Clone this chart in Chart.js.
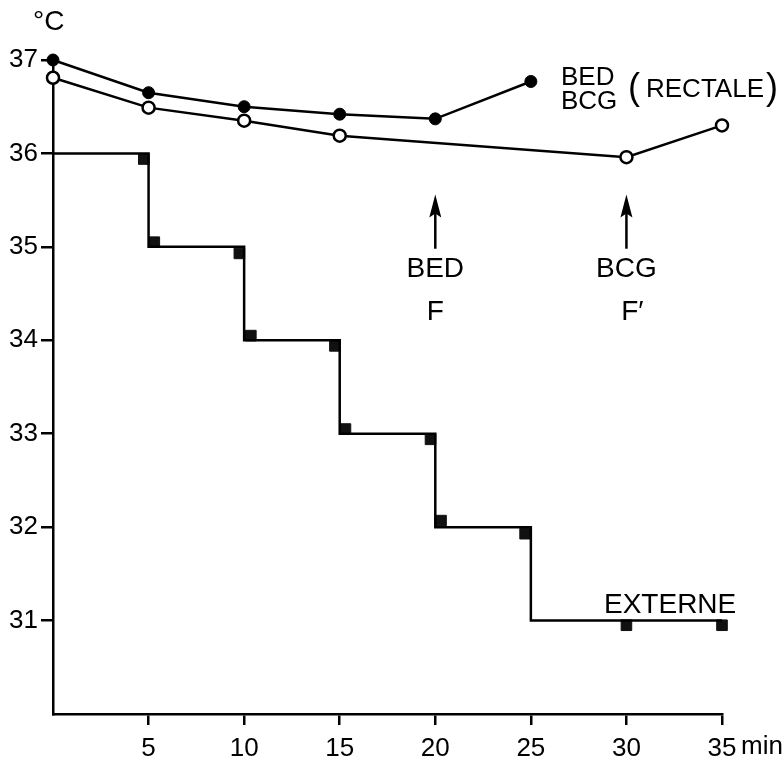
<!DOCTYPE html>
<html>
<head>
<meta charset="utf-8">
<script src="https://cdn.jsdelivr.net/npm/chart.js@4.4.1/dist/chart.umd.min.js"></script>
<style>
  html, body { margin: 0; padding: 0; background: #fff; }
  #wrap { width: 783px; height: 757px; }
</style>
</head>
<body>
<div id="wrap"><canvas id="c" width="783" height="757"></canvas></div>
<script>
// ---- data ----
const bedTimes   = [0, 5, 10, 15, 20, 25];
const bedTemps   = [37.0, 36.65, 36.5, 36.42, 36.37, 36.77];
const bcgTimes   = [0, 5, 10, 15, 30, 35];
const bcgTemps   = [36.81, 36.49, 36.35, 36.19, 35.96, 36.30];
const extTimes   = [0, 5, 10, 15, 20, 25, 35];
const extTemps   = [36, 35, 34, 33, 32, 31, 31];
const extMarkTimes = [4.75, 5.3, 9.75, 10.35, 14.75, 15.3, 19.75, 20.3, 24.7, 30, 35];
const extMarkTemps = [35.94, 35.05, 34.93, 34.05, 33.94, 33.05, 32.94, 32.07, 31.93, 30.95, 30.95];
const xTickValues = [5, 10, 15, 20, 25, 30, 35];
const yTickValues = [31, 32, 33, 34, 35, 36, 37];
const arrowTimes  = [20, 30];
const arrowLabels = ['BED', 'BCG'];
const arrowSubLabels = ['F', 'F\u2032'];

const FONT = '"Liberation Sans", Arial, sans-serif';

const pts = (xs, ys) => xs.map((x, i) => ({ x: x, y: ys[i] }));

const annotate = {
  id: 'annotate',
  afterDraw(chart) {
    const ctx = chart.ctx;
    const xs = chart.scales.x, ys = chart.scales.y;
    ctx.save();
    ctx.fillStyle = '#000';
    ctx.strokeStyle = '#000';
    ctx.textAlign = 'center';
    ctx.textBaseline = 'middle';
    ctx.font = '28px ' + FONT;
    // arrows with labels
    arrowTimes.forEach((t, i) => {
      const px = xs.getPixelForValue(t);
      const yTip = ys.getPixelForValue(35.56);
      const yBase = ys.getPixelForValue(34.98);
      ctx.lineWidth = 2.5;
      ctx.beginPath();
      ctx.moveTo(px, yBase);
      ctx.lineTo(px, yTip + 14);
      ctx.stroke();
      ctx.beginPath();
      ctx.moveTo(px, yTip);
      ctx.lineTo(px - 6, yTip + 23);
      ctx.lineTo(px, yTip + 19);
      ctx.lineTo(px + 6, yTip + 23);
      ctx.closePath();
      ctx.fill();
      ctx.fillText(arrowLabels[i], px, ys.getPixelForValue(34.76));
      ctx.fillText(arrowSubLabels[i], px + (i === 1 ? 6 : 0), ys.getPixelForValue(34.3));
    });
    // series labels
    ctx.textAlign = 'left';
    ctx.font = '26px ' + FONT;
    ctx.fillText('BED', 561, 78);
    ctx.fillText('BCG', 561, 102);
    ctx.fillText('RECTALE', 646, 90);
    ctx.font = '36px ' + FONT;
    ctx.fillText('(', 628, 89);
    ctx.fillText(')', 766, 89);
    ctx.font = '28px ' + FONT;
    ctx.fillText('EXTERNE', 604, 605);
    // axis units
    ctx.fillText('\u00B0C', 33, 22);
    ctx.font = '26px ' + FONT;
    ctx.fillText('min', xs.getPixelForValue(35) + 19, 747);
    ctx.restore();
  }
};

new Chart(document.getElementById('c'), {
  type: 'line',
  data: {
    datasets: [
      {
        label: 'BED',
        data: pts(bedTimes, bedTemps),
        borderColor: '#000', borderWidth: 2.5,
        pointRadius: 6, pointBackgroundColor: '#000', pointBorderColor: '#000', pointBorderWidth: 1,
        tension: 0, clip: false
      },
      {
        label: 'BCG',
        data: pts(bcgTimes, bcgTemps),
        borderColor: '#000', borderWidth: 2.5,
        pointRadius: 6, pointBackgroundColor: '#fff', pointBorderColor: '#000', pointBorderWidth: 2.5,
        tension: 0, clip: false
      },
      {
        label: 'EXTERNE',
        data: pts(extTimes, extTemps),
        borderColor: '#000', borderWidth: 2.5,
        stepped: 'before', pointRadius: 0, clip: false
      },
      {
        label: 'EXTERNE mesures',
        data: pts(extMarkTimes, extMarkTemps),
        showLine: false,
        pointStyle: 'rect', pointRadius: 7.5,
        pointBackgroundColor: '#111', pointBorderColor: '#111', pointBorderWidth: 1,
        clip: false
      }
    ]
  },
  options: {
    responsive: false,
    animation: false,
    layout: { padding: { top: 60, right: 61, left: 0, bottom: 0 } },
    plugins: { legend: { display: false }, tooltip: { enabled: false } },
    scales: {
      x: {
        type: 'linear', min: 0, max: 35,
        afterBuildTicks(s) { s.ticks = [0].concat(xTickValues).map(v => ({ value: v })); },
        afterFit(s) { s.height = 43; },
        ticks: {
          callback: v => (v === 0 ? '' : String(v)),
          color: '#000', font: { size: 26, family: FONT }, padding: 8, maxRotation: 0, autoSkip: false
        },
        grid: {
          drawOnChartArea: false, drawTicks: true, tickLength: 11, lineWidth: 2.5,
          color: c => (c.tick && c.tick.value === 0 ? 'rgba(0,0,0,0)' : '#000')
        },
        border: { display: true, color: '#000', width: 2.5 }
      },
      y: {
        type: 'linear', min: 30, max: 37,
        afterBuildTicks(s) { s.ticks = [30].concat(yTickValues).map(v => ({ value: v })); },
        afterFit(s) { s.width = 53; },
        ticks: {
          callback: v => (v === 30 ? '' : String(v)),
          color: '#000', font: { size: 26, family: FONT }, padding: 3, autoSkip: false
        },
        grid: {
          drawOnChartArea: false, drawTicks: true, tickLength: 12, lineWidth: 2.5,
          color: c => (c.tick && c.tick.value === 30 ? 'rgba(0,0,0,0)' : '#000')
        },
        border: { display: true, color: '#000', width: 2.5 }
      }
    }
  },
  plugins: [annotate]
});
</script>
</body>
</html>
